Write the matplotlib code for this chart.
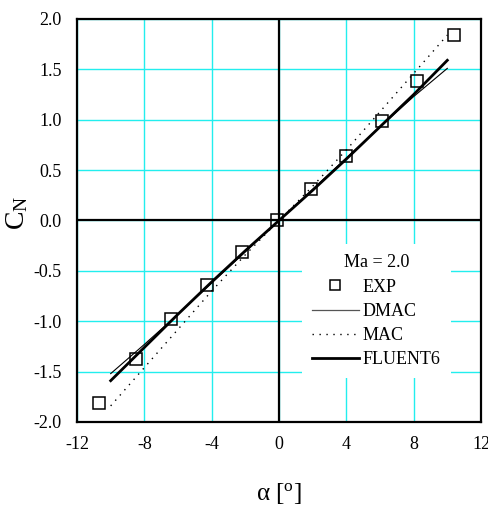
import numpy as np
import matplotlib
matplotlib.use("Agg")
import matplotlib.pyplot as plt
from matplotlib.lines import Line2D

plt.rcParams["font.family"] = ["Liberation Serif", "DejaVu Serif"]
plt.rcParams["mathtext.fontset"] = "custom"
plt.rcParams["mathtext.rm"] = "Liberation Serif"
plt.rcParams["mathtext.it"] = "Liberation Serif:italic"
plt.rcParams["axes.unicode_minus"] = False

# experiment
alpha_exp = [-10.7, -8.5, -6.4, -4.3, -2.2, -0.1, 1.9, 4.0, 6.1, 8.2, 10.4]
cn_exp = [-1.81, -1.37, -0.98, -0.64, -0.31, 0.0, 0.31, 0.64, 0.99, 1.38, 1.84]

# computations
alpha_calc = [-10, -8, -6, -4, -2, 0, 2, 4, 6, 8, 10]
cn_dmac = [-1.52, -1.23, -0.93, -0.62, -0.31, 0.0, 0.31, 0.62, 0.93, 1.23, 1.51]
cn_mac = [-1.84, -1.46, -1.08, -0.70, -0.34, 0.0, 0.34, 0.70, 1.08, 1.46, 1.84]
cn_fluent = [-1.59, -1.26, -0.93, -0.61, -0.30, 0.0, 0.30, 0.61, 0.93, 1.25, 1.59]

xticks = [-12, -8, -4, 0, 4, 8, 12]
yticks = [-2.0, -1.5, -1.0, -0.5, 0.0, 0.5, 1.0, 1.5, 2.0]

fig = plt.figure(figsize=(4.89, 5.08), dpi=100)
ax = fig.add_axes([0.1575, 0.1693, 0.8261, 0.7933])

ax.set_xlim(-12, 12)
ax.set_ylim(-2, 2)
ax.set_xticks(xticks)
ax.set_yticks(yticks)
ax.set_yticklabels(["%.1f" % v for v in yticks])
ax.tick_params(length=0, labelsize=13)
ax.tick_params(axis="x", pad=10)
ax.tick_params(axis="y", pad=11)
ax.grid(True, color="#22EEEE", linewidth=1.0)
ax.set_axisbelow(True)
for s in ax.spines.values():
    s.set_linewidth(1.6)
ax.axhline(0, color="black", linewidth=1.6, zorder=1.5)
ax.axvline(0, color="black", linewidth=1.6, zorder=1.5)

ax.plot(alpha_calc, cn_dmac, color="black", linewidth=0.8, zorder=3)
ax.plot(alpha_calc, cn_mac, color="black", linewidth=1.0,
        linestyle=(0, (1, 4)), zorder=3)
ax.plot(alpha_calc, cn_fluent, color="black", linewidth=2.0, zorder=3)
ax.plot(alpha_exp, cn_exp, linestyle="none", marker="s", markersize=9,
        markerfacecolor="none", markeredgecolor="black",
        markeredgewidth=1.1, zorder=4)

handles = [
    Line2D([], [], linestyle="none", marker="s", markersize=7,
           markerfacecolor="none", markeredgecolor="black", markeredgewidth=1.1),
    Line2D([], [], color="#555555", linewidth=0.9),
    Line2D([], [], color="black", linewidth=1.0, linestyle=(0, (1, 4))),
    Line2D([], [], color="black", linewidth=2.0),
]
leg = ax.legend(handles, ["EXP", "DMAC", "MAC", "FLUENT6"], title="Ma = 2.0",
                loc="center", bbox_to_anchor=(0.741, 0.2745), fontsize=13,
                title_fontsize=13, frameon=True, fancybox=False,
                facecolor="white", edgecolor="none", framealpha=1.0,
                handlelength=2.6, handletextpad=0.22, labelspacing=0.4,
                borderpad=0.55, borderaxespad=0)
leg.set_zorder(5)

ax.set_xlabel("α [$^{\\mathrm{o}}$]", fontsize=18, labelpad=20)
ax.set_ylabel("C$_{\\mathrm{N}}$", fontsize=20, labelpad=2)
ax.yaxis.label.set_y(0.52)

fig.savefig("out.png", dpi=100)
